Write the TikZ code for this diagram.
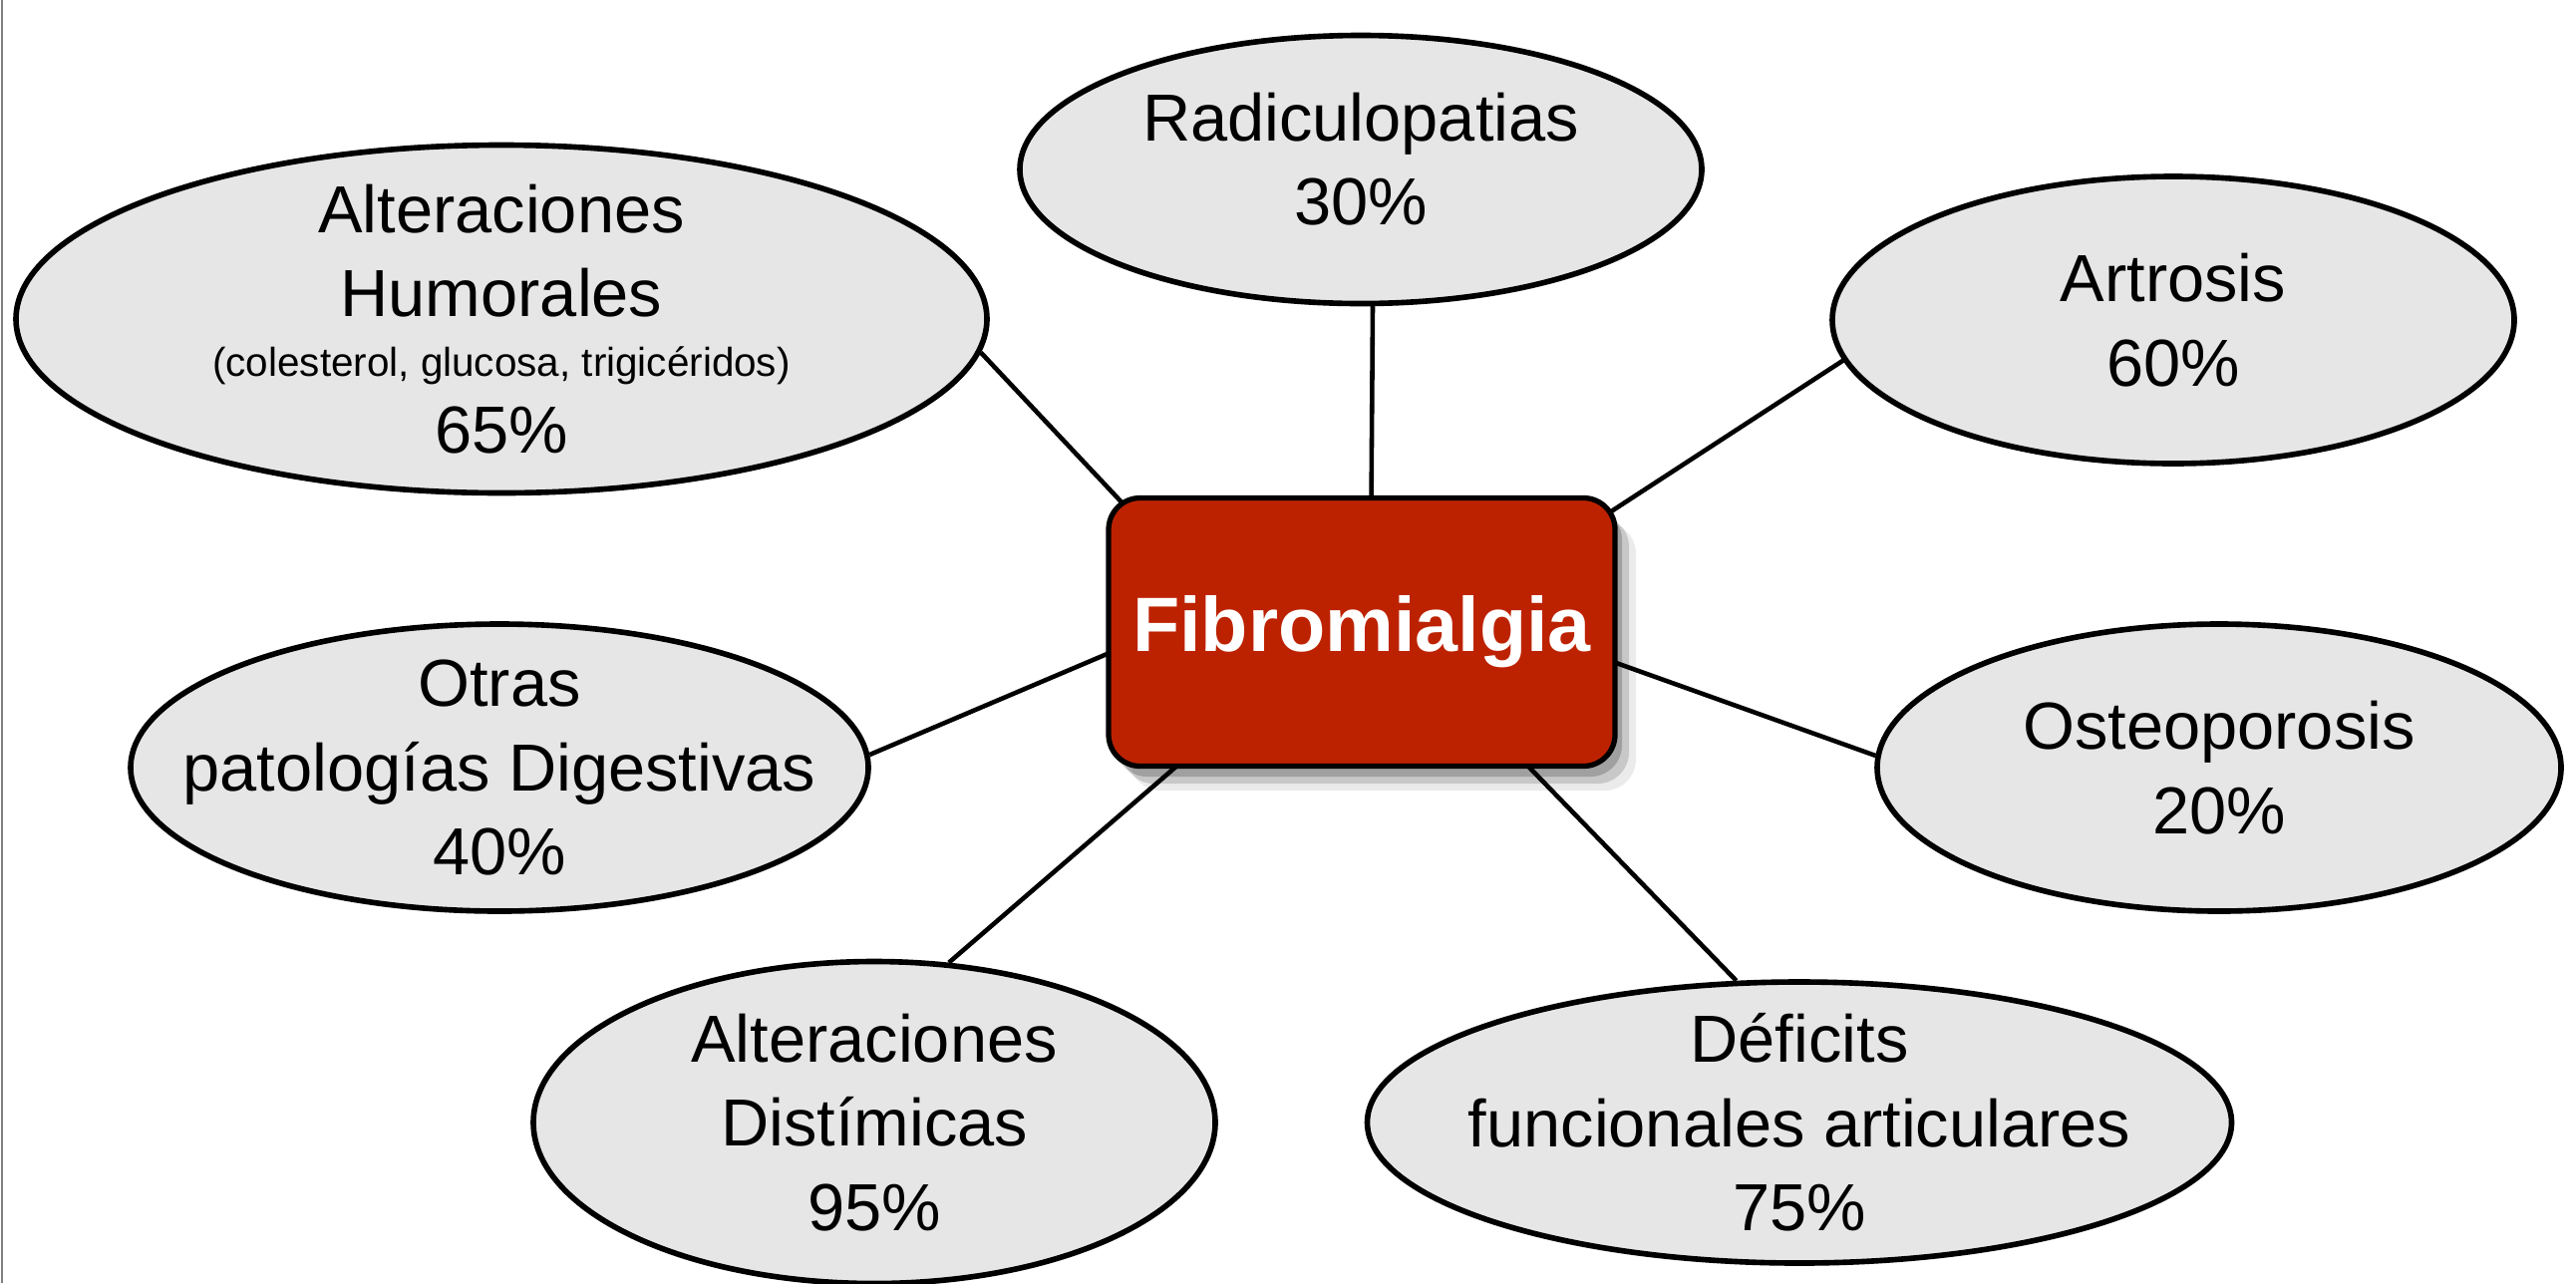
\documentclass[tikz,border=0pt]{standalone}
\usepackage{fontspec}
\setmainfont{Liberation Sans}
\usetikzlibrary{%
        backgrounds,
        shadows,
        shapes.geometric
    }
\definecolor{fibrored}{RGB}{189, 34, 0}
\definecolor{bubblegray}{RGB}{230, 230, 230}
\tikzset{
    bubble/.style={ellipse, draw=black, line width=1.6pt, fill=bubblegray,
        inner xsep=-1cm, inner ysep=-0.5cm, align=center,
        font=\fontsize{19}{24}\selectfont},
    centerbox/.style={rectangle, rounded corners=9pt, draw=black, line width=1.5pt,
        fill=fibrored, text=white, inner sep=0pt, font=\bfseries\fontsize{22}{26}\selectfont,
        drop shadow={shadow xshift=6pt, shadow yshift=-7pt, fill=black, opacity=0.08},
        drop shadow={shadow xshift=4pt, shadow yshift=-5pt, fill=black, opacity=0.15},
        drop shadow={shadow xshift=2pt, shadow yshift=-3pt, fill=black, opacity=0.2}},
    link/.style={draw=black, line width=1.3pt}
}

\begin{document}
\begin{tikzpicture}

    \useasboundingbox (0, 0) rectangle (25.84, -12.87);
    \draw[gray, line width=0.8pt] (0.02, 0) -- (0.02, -12.87);

    \node[centerbox, minimum width=5.08cm, minimum height=2.69cm]
        (fibro) at (13.66, -6.34) {Fibromialgia};

    \node[bubble, minimum width=6.84cm, minimum height=2.69cm]
        (radic) at (13.65, -1.70) {Radiculopatias\\30\%\\[-18pt]};
    \node[bubble, minimum width=6.84cm, minimum height=2.88cm]
        (artrosis) at (21.80, -3.21) {Artrosis\\60\%};
    \node[bubble, minimum width=9.74cm, minimum height=3.49cm]
        (humor) at (5.03, -3.20) {Alteraciones\\Humorales\\[-7pt]
            {\fontsize{11.5}{14}\selectfont (colesterol, glucosa, trigicéridos)}\\[-2pt]
            65\%};
    \node[bubble, minimum width=7.40cm, minimum height=2.88cm]
        (otras) at (5.01, -7.70) {Otras\\patologías Digestivas\\40\%};
    \node[bubble, minimum width=6.86cm, minimum height=2.88cm]
        (osteo) at (22.26, -7.70) {Osteoporosis\\20\%};
    \node[bubble, minimum width=6.84cm, minimum height=3.23cm]
        (distim) at (8.77, -11.26) {Alteraciones\\Distímicas\\95\%};
    \node[bubble, minimum width=8.67cm, minimum height=2.82cm]
        (deficit) at (18.05, -11.26) {Déficits\\funcionales articulares\\75\%};

    \begin{scope}[on background layer]
        \draw[link, shorten >=-6pt] (radic.-85.8) -- (fibro.86.6);
        \draw[link, shorten >=-6pt] (artrosis.187.8) -- (fibro.26.6);
        \draw[link, shorten >=-6pt] (humor.-4.5) -- (fibro.151.9);
        \draw[link, shorten >=-6pt] (otras.2.5) -- (fibro.-175);
        \draw[link, shorten >=-6pt] (osteo.178.6) -- (fibro.-7.2);
        \draw[link, shorten >=-6pt] (distim.65.1) -- (fibro.-144.7);
        \draw[link, shorten >=-6pt] (deficit.114.1) -- (fibro.-39.7);
    \end{scope}

\end{tikzpicture}
\end{document}
